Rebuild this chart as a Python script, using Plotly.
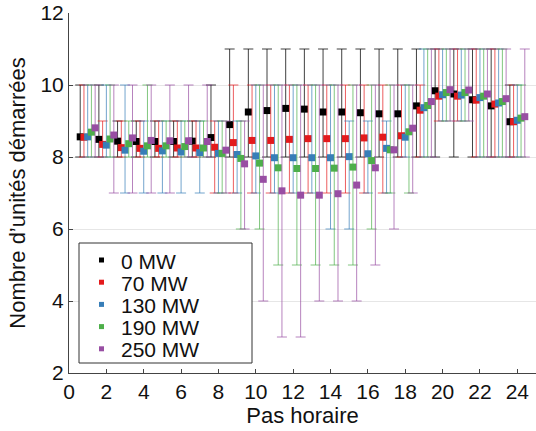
import plotly.graph_objects as go

hours = list(range(1, 25))
series_names = ["0 MW", "70 MW", "130 MW", "190 MW", "250 MW"]
series_colors = ["#000000", "#e41a1c", "#377eb8", "#4daf4a", "#984ea3"]
bar_colors = ["rgba(0,0,0,0.75)", "rgba(228,26,28,0.7)", "rgba(55,126,184,0.7)",
              "rgba(77,175,74,0.7)", "rgba(152,78,163,0.7)"]
offsets = [-0.4, -0.2, 0.0, 0.2, 0.4]

mean_0 = [8.56, 8.49, 8.44, 8.43, 8.43, 8.43, 8.44, 8.54, 8.90, 9.25, 9.29, 9.35,
          9.33, 9.25, 9.25, 9.23, 9.20, 9.20, 9.42, 9.84, 9.75, 9.59, 9.42, 8.98]
mean_70 = [8.55, 8.35, 8.26, 8.24, 8.24, 8.25, 8.25, 8.27, 8.40, 8.46, 8.46, 8.49,
           8.51, 8.51, 8.51, 8.53, 8.55, 8.59, 9.30, 9.69, 9.69, 9.58, 9.47, 8.98]
mean_130 = [8.56, 8.33, 8.19, 8.16, 8.17, 8.14, 8.12, 8.10, 8.07, 8.03, 7.98, 7.98,
            7.98, 7.98, 8.01, 8.09, 8.24, 8.55, 9.37, 9.73, 9.72, 9.65, 9.50, 9.02]
mean_190 = [8.69, 8.50, 8.37, 8.31, 8.31, 8.29, 8.25, 8.10, 7.96, 7.83, 7.70, 7.68,
            7.68, 7.69, 7.72, 7.90, 8.20, 8.70, 9.43, 9.79, 9.79, 9.69, 9.54, 9.08]
mean_250 = [8.81, 8.61, 8.53, 8.46, 8.45, 8.45, 8.43, 8.19, 7.81, 7.38, 7.06, 6.94,
            6.94, 6.98, 7.22, 7.70, 8.20, 8.80, 9.54, 9.87, 9.86, 9.75, 9.62, 9.12]

min_0 = [8] * 24
min_70 = [8, 8, 8, 8, 8, 8, 8, 7, 7, 7, 7, 7, 7, 7, 7, 7, 7, 8, 8, 9, 9, 8, 8, 8]
min_130 = [8, 8, 7, 7, 7, 7, 7, 7, 7, 7, 7, 7, 7, 6, 6, 7, 7, 8, 8, 9, 9, 8, 8, 8]
min_190 = [8, 8, 8, 8, 8, 8, 8, 7, 6, 6, 5, 5, 5, 5, 5, 6, 7, 7, 8, 9, 9, 8, 8, 8]
min_250 = [8, 7, 7, 7, 7, 8, 8, 7, 6, 4, 3, 3, 4, 4, 4, 5, 6, 7, 8, 9, 9, 8, 8, 8]

max_0 = [10, 10, 9, 9, 9, 9, 9, 10, 11, 11, 11, 11, 11, 11, 11, 11, 11, 11, 11, 11, 11, 11, 11, 10]
max_70 = [10, 9, 9, 9, 9, 9, 9, 9, 10, 10, 10, 10, 10, 10, 10, 10, 10, 10, 10, 11, 11, 11, 11, 10]
max_130 = [10, 10, 10, 9, 9, 9, 9, 9, 9, 10, 10, 10, 10, 10, 9, 9, 9, 10, 11, 11, 11, 11, 11, 10]
max_190 = [10, 10, 9, 10, 9, 9, 9, 9, 9, 10, 10, 10, 10, 10, 10, 10, 10, 10, 11, 11, 11, 11, 11, 10]
max_250 = [10, 10, 10, 10, 10, 10, 10, 9, 9, 10, 10, 10, 10, 10, 10, 10, 10, 10, 11, 11, 11, 11, 11, 11]

means = [mean_0, mean_70, mean_130, mean_190, mean_250]
mins = [min_0, min_70, min_130, min_190, min_250]
maxs = [max_0, max_70, max_130, max_190, max_250]

x_ticks = list(range(0, 25, 2))
y_ticks = list(range(2, 13, 2))

FONT = "Liberation Sans"
W, H = 536, 431
ML, MR, MT, MB = 69, 0, 13, 58
PW, PH = W - ML - MR, H - MT - MB


def px_x(px):
    return (px - ML) / PW


def px_y(py):
    return (H - MB - py) / PH


fig = go.Figure()
for i in range(5):
    xs = [h + offsets[i] for h in hours]
    m = means[i]
    up = [maxs[i][k] - m[k] for k in range(24)]
    dn = [m[k] - mins[i][k] for k in range(24)]
    fig.add_trace(go.Scatter(
        x=xs, y=m, mode="markers", name=series_names[i],
        marker=dict(symbol="square", size=7, color=series_colors[i]),
        error_y=dict(type="data", symmetric=False, array=up, arrayminus=dn,
                     color=bar_colors[i], thickness=1, width=5),
    ))

# custom legend box (tight line spacing like the reference)
shapes = [dict(type="rect", xref="paper", yref="paper",
               x0=px_x(79), x1=px_x(252), y0=px_y(363), y1=px_y(243),
               line=dict(color="#333333", width=1), fillcolor="white", layer="above")]
annotations = []
row0, row_gap = 260, 22.2
for i, name in enumerate(series_names):
    cy = row0 + i * row_gap
    shapes.append(dict(type="rect", xref="paper", yref="paper",
                       x0=px_x(99), x1=px_x(104), y0=px_y(cy + 2.5), y1=px_y(cy - 2.5),
                       line=dict(width=0), fillcolor=series_colors[i], layer="above"))
    annotations.append(dict(xref="paper", yref="paper", x=px_x(119), y=px_y(cy + 1),
                            text=name, showarrow=False, xanchor="left", yanchor="middle",
                            font=dict(family=FONT, size=21, color="#111111")))

fig.update_layout(
    width=W, height=H,
    margin=dict(l=ML, r=MR, t=MT, b=MB),
    paper_bgcolor="white", plot_bgcolor="white",
    font=dict(family=FONT, size=20, color="#111111"),
    showlegend=False,
    shapes=shapes, annotations=annotations,
)
fig.update_xaxes(
    range=[0, 25], tickmode="array", tickvals=x_ticks,
    ticks="inside", ticklen=4, tickcolor="#444444",
    showline=True, linecolor="#444444", linewidth=1,
    showgrid=False, zeroline=False, automargin=False,
    ticklabeloverflow="allow",
    tickfont=dict(family=FONT, size=21),
    title=dict(text="Pas horaire", font=dict(family=FONT, size=22), standoff=2),
)
fig.update_yaxes(
    range=[2, 12], tickmode="array", tickvals=y_ticks,
    ticks="inside", ticklen=4, tickcolor="#444444",
    showline=True, linecolor="#444444", linewidth=1,
    showgrid=True, gridcolor="#e6e6e6", zeroline=False, automargin=False,
    ticklabeloverflow="allow",
    tickfont=dict(family=FONT, size=21),
    title=dict(text="Nombre d’unités démarrées", font=dict(family=FONT, size=22), standoff=8),
)

fig.write_html("out.html", config={"displayModeBar": False},
               post_script="document.body.style.margin='0px';document.body.style.overflow='hidden';")
